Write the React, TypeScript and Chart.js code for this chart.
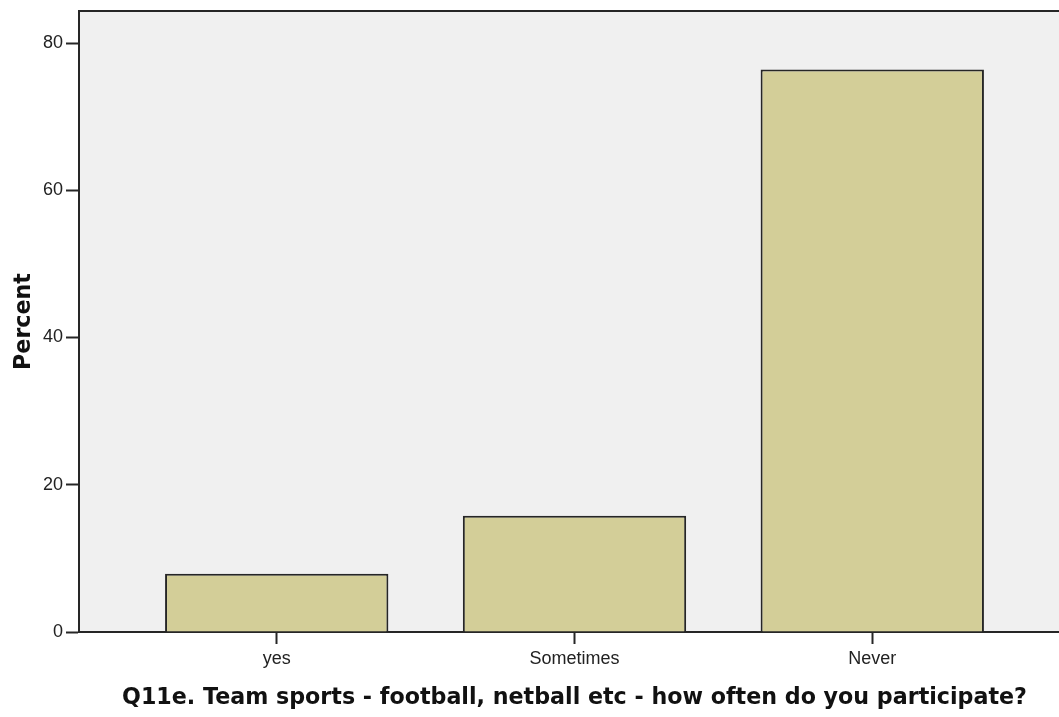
import React, { useEffect, useRef } from "react";
import { Chart, registerables } from "chart.js";

Chart.register(...registerables);

const categories = ["yes", "Sometimes", "Never"];
const positions = [1, 2, 3];
const percents = [7.9, 15.8, 76.4];
const yTicks = [0, 20, 40, 60, 80];
const xTitle = "Q11e. Team sports - football, netball etc - how often do you participate?";
const yTitle = "Percent";

const axisColor = "#262626";

const plotBg = {
  id: "plotBg",
  beforeDraw(chart: any) {
    const { ctx, chartArea } = chart;
    if (!chartArea) return;
    ctx.save();
    ctx.fillStyle = "#F0F0F0";
    ctx.fillRect(chartArea.left, chartArea.top, chartArea.right - chartArea.left, chartArea.bottom - chartArea.top);
    ctx.strokeStyle = axisColor;
    ctx.lineWidth = 2;
    ctx.beginPath();
    ctx.moveTo(chartArea.left, chartArea.top);
    ctx.lineTo(chartArea.right, chartArea.top);
    ctx.moveTo(chartArea.right, chartArea.top);
    ctx.lineTo(chartArea.right, chartArea.bottom);
    ctx.stroke();
    ctx.restore();
  },
};

export default function App() {
  const ref = useRef<HTMLCanvasElement>(null);
  useEffect(() => {
    document.body.style.margin = "0";
    document.body.style.overflow = "hidden";
    const canvas = ref.current!;
    const chart = new Chart(canvas, {
      type: "bar",
      data: {
        datasets: [
          {
            data: positions.map((p, i) => ({ x: p, y: percents[i] })),
            backgroundColor: "#D3CE98",
            borderColor: axisColor,
            borderWidth: 2,
            barPercentage: 0.75,
            categoryPercentage: 1,
          },
        ],
      },
      options: {
        animation: false,
        responsive: false,
        maintainAspectRatio: false,
        layout: { padding: { top: 11, left: 0, right: 0, bottom: 0 } },
        plugins: { legend: { display: false }, tooltip: { enabled: false } },
        scales: {
          x: {
            type: "linear",
            offset: false,
            min: 0.336,
            max: 3.664,
            grid: {
              offset: false,
              drawOnChartArea: false,
              drawTicks: true,
              tickLength: 12,
              tickColor: axisColor,
              tickWidth: 2,
            },
            border: { display: true, color: axisColor, width: 2 },
            afterBuildTicks: (scale: any) => {
              scale.ticks = positions.map((v) => ({ value: v }));
            },
            afterFit: (scale: any) => {
              scale.height = 85;
              scale.paddingLeft = 0;
              scale.paddingRight = 0;
            },
            ticks: {
              autoSkip: false,
              maxRotation: 0,
              padding: 4,
              color: "#222",
              font: { family: "'Liberation Sans', Arial, sans-serif", size: 18 },
              callback: (v: any) => categories[Math.round(v) - 1] ?? "",
            },
            title: {
              display: true,
              text: xTitle,
              color: "#111",
              font: { family: "'DejaVu Sans', sans-serif", size: 22.2, weight: "bold" },
              padding: { top: 0, bottom: 5 },
            },
          },
          y: {
            type: "linear",
            min: 0,
            max: 84.35,
            grid: {
              drawOnChartArea: false,
              drawTicks: true,
              tickLength: 13,
              tickColor: axisColor,
              tickWidth: 2,
            },
            border: { display: true, color: axisColor, width: 2 },
            afterBuildTicks: (scale: any) => {
              scale.ticks = yTicks.map((v) => ({ value: v }));
            },
            afterFit: (scale: any) => {
              scale.width = 79;
              scale.paddingTop = 0;
              scale.paddingBottom = 0;
            },
            ticks: {
              padding: 3,
              color: "#222",
              font: { family: "'Liberation Sans', Arial, sans-serif", size: 18 },
            },
            title: {
              display: true,
              text: yTitle,
              color: "#111",
              font: { family: "'DejaVu Sans', sans-serif", size: 22.2, weight: "bold" },
              padding: { top: 11, bottom: 0 },
            },
          },
        },
      },
      plugins: [plotBg],
    });
    return () => chart.destroy();
  }, []);
  return (
    <div style={{ width: 1059, height: 717, overflow: "hidden" }}>
      <canvas ref={ref} width={1070} height={717} style={{ display: "block" }} />
    </div>
  );
}
